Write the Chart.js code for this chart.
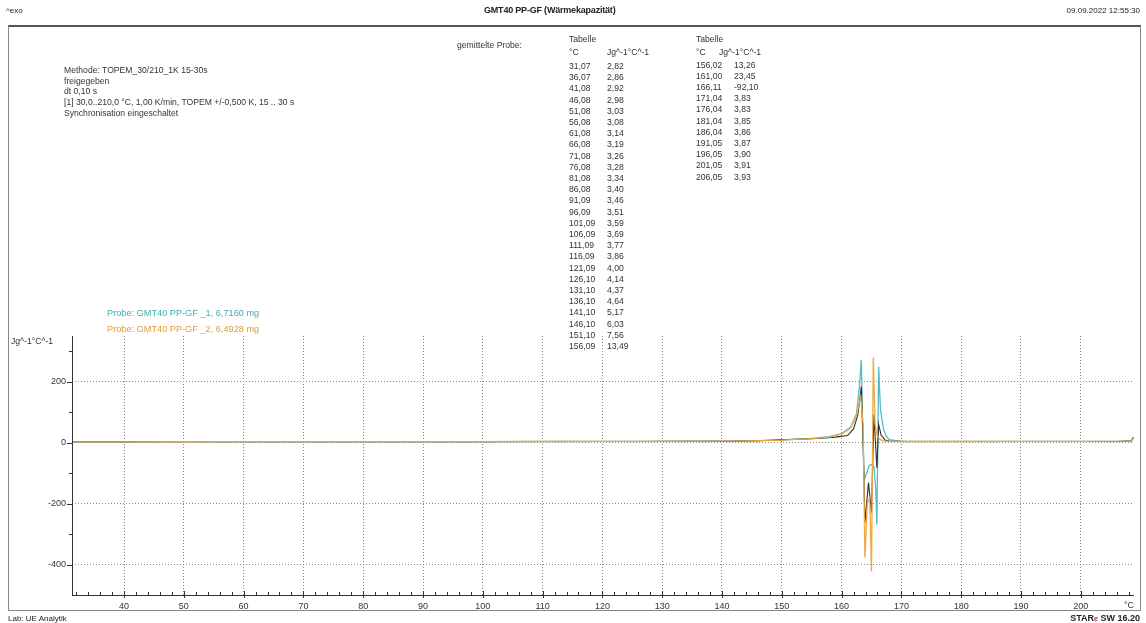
<!DOCTYPE html>
<html>
<head>
<meta charset="utf-8">
<script src="https://cdn.jsdelivr.net/npm/chart.js@4"></script>
<style>
  html, body { margin: 0; padding: 0; background: #fff; }
  #wrap { position: relative; width: 1146px; height: 623px; overflow: hidden; }
  #cv { position: absolute; left: 0; top: 0; }
  .t { position: absolute; white-space: pre; color: #333; font-family: "Liberation Sans", Arial, sans-serif; font-size: 8.6px; line-height: 11.2px; }
  .hdr { font-family: "Liberation Sans Narrow", "Liberation Sans", sans-serif; font-size: 8px; color: #222; }
  #frame { position: absolute; left: 8px; top: 25px; width: 1133px; height: 586px; border: 1px solid #888; border-top: 2px solid #555; box-sizing: border-box; }
</style>
</head>
<body>
<div id="wrap">
  <div id="frame"></div>
  <canvas id="cv" width="1146" height="623"></canvas>

  <div class="t hdr" style="left:6px;top:5px;">^exo</div>
  <div class="t hdr" style="left:484px;top:5px;font-size:9px;font-weight:bold;letter-spacing:-0.2px;">GMT40 PP-GF (Wärmekapazität)</div>
  <div class="t hdr" style="right:6px;top:5px;">09.09.2022 12:55:30</div>

  <div class="t" style="left:64px;top:65px;line-height:10.7px;">Methode: TOPEM_30/210_1K 15-30s
freigegeben
dt 0,10 s
[1] 30,0..210,0 °C, 1,00 K/min, TOPEM +/-0,500 K, 15 .. 30 s
Synchronisation eingeschaltet</div>

  <div class="t" style="left:457px;top:40px;">gemittelte Probe:</div>
  <div id="tab1"></div>
  <div id="tab2"></div>

  <div class="t" style="left:107px;top:308px;font-size:9.2px;color:#3aaeb4;">Probe: GMT40 PP-GF _1, 6,7160 mg</div>
  <div class="t" style="left:107px;top:324px;font-size:9.2px;color:#e39b35;">Probe: GMT40 PP-GF _2, 6,4928 mg</div>

  <div class="t" style="left:11px;top:336px;">Jg^-1°C^-1</div>
  <div class="t" style="left:1124px;top:600px;font-size:9px;">°C</div>

  <div class="t hdr" style="left:8px;top:613px;">Lab: UE Analytik</div>
  <div class="t hdr" style="right:6px;top:613px;font-weight:bold;font-size:9px;">STAR<span style="color:#c8102e;font-size:7px;vertical-align:top;">e</span> SW 16.20</div>
</div>

<script>
// Tabellen (gemittelte Probe)
const table1Temps = ['31,07','36,07','41,08','46,08','51,08','56,08','61,08','66,08','71,08','76,08','81,08','86,08','91,09',
  '96,09','101,09','106,09','111,09','116,09','121,09','126,10','131,10','136,10','141,10','146,10','151,10','156,09'];
const table1Values = ['2,82','2,86','2,92','2,98','3,03','3,08','3,14','3,19','3,26','3,28','3,34','3,40','3,46',
  '3,51','3,59','3,69','3,77','3,86','4,00','4,14','4,37','4,64','5,17','6,03','7,56','13,49'];
const table2Temps = ['156,02','161,00','166,11','171,04','176,04','181,04','186,04','191,05','196,05','201,05','206,05'];
const table2Values = ['13,26','23,45','-92,10','3,83','3,83','3,85','3,86','3,87','3,90','3,91','3,93'];

// Kurve gemittelte Probe (dunkel)
const meanTemps = [31.3, 36.07, 41.08, 46.08, 51.08, 56.08, 61.08, 66.08, 71.08, 76.08, 81.08, 86.08, 91.09, 96.09,
  101.09, 106.09, 111.09, 116.09, 121.09, 126.10, 131.10, 136.10, 141.10, 146.10, 151.10, 156.09, 159.0, 161.0,
  162.0, 162.7, 163.1, 163.3, 163.6, 163.9, 164.5, 165.0, 165.4, 165.9, 166.2, 166.6, 167.3, 168.0,
  171.04, 176.04, 181.04, 186.04, 191.05, 196.05, 201.05, 206.05, 208.5, 208.8];
const meanValues = [2.8, 2.82, 2.86, 2.92, 2.98, 3.03, 3.08, 3.14, 3.19, 3.26, 3.28, 3.34, 3.40, 3.46,
  3.51, 3.59, 3.69, 3.77, 3.86, 4.00, 4.14, 4.37, 4.64, 6.03, 10.5, 13.49, 18, 23.45,
  45, 90, 150, 184, 0, -262, -131, -230, 92, -82, 60, 25, 8, 5,
  3.83, 3.83, 3.85, 3.86, 3.87, 3.90, 3.91, 3.93, 6, 16];

// Probe 1 (cyan)
const probe1Temps = [31.3, 40, 50, 60, 70, 80, 90, 100, 110, 120, 130, 140, 145, 150, 155, 158, 160, 161.5, 162.5,
  163.0, 163.3, 163.5, 163.8, 164.2, 164.6, 165.0, 165.4, 165.7, 165.9, 166.2, 166.5, 167.0, 167.5, 168.0,
  170, 180, 190, 200, 208.4, 208.8];
const probe1Values = [2.9, 3.0, 3.1, 3.2, 3.3, 3.4, 3.5, 3.6, 3.8, 4.0, 4.4, 5.0, 6, 9, 14, 20, 30, 50, 95,
  190, 272, 60, -121, -100, -75, -72, -80, -150, -269, 249, 110, 45, 20, 10,
  4, 3.9, 3.9, 4.0, 5, 18];

// Probe 2 (orange)
const probe2Temps = [31.3, 40, 50, 60, 70, 80, 90, 100, 110, 120, 130, 140, 145, 150, 155, 158, 160, 161.5, 162.5,
  163.2, 163.6, 163.9, 164.3, 164.7, 165.0, 165.3, 165.6, 166.0, 166.5, 167.0, 168.0,
  170, 180, 190, 200, 208.4, 208.8];
const probe2Values = [2.7, 2.8, 3.0, 3.1, 3.2, 3.3, 3.4, 3.5, 3.7, 3.9, 4.2, 4.8, 5.8, 8, 13, 18, 28, 48, 90,
  150, 60, -377, -200, -180, -423, 279, 60, 20, 10, 6, 4,
  3.8, 3.8, 3.9, 3.9, 5, 14];

// Achsen
const xMin = 31.3, xMax = 208.9;
const yMin = -500, yMax = 350;
const xTickValues = [];
for (let v = 32; v <= 208; v += 2) xTickValues.push(v);
const yTickValues = [-400, -300, -200, -100, 0, 100, 200, 300];

const colors = {
  probe1: '#52bcc8',
  probe2: '#eea743',
  mean: '#2e2e2e',
  grid: '#8a8a8a',
  axis: '#333333',
  text: '#333333'
};

// Tabellen füllen (Kopf + Zeilen)
function buildTable(id, left, unitLeft, valueLeft, firstRowTop, temps, vals) {
  const el = document.getElementById(id);
  let html = '<div class="t" style="left:' + left + 'px;top:34px;">Tabelle</div>' +
    '<div class="t" style="left:' + left + 'px;top:47px;">°C</div>' +
    '<div class="t" style="left:' + unitLeft + 'px;top:47px;">Jg^-1°C^-1</div>';
  temps.forEach((t, i) => {
    const top = firstRowTop + i * 11.2;
    html += '<div class="t" style="left:' + left + 'px;top:' + top + 'px;">' + t + '</div>' +
      '<div class="t" style="left:' + valueLeft + 'px;top:' + top + 'px;">' + vals[i] + '</div>';
  });
  el.innerHTML = html;
}
buildTable('tab1', 569, 607, 607, 61, table1Temps, table1Values);
buildTable('tab2', 696, 719, 734, 59.5, table2Temps, table2Values);

function toPoints(xs, ys) {
  return xs.map((x, i) => ({ x: x, y: ys[i] }));
}

// Achsenlinien und Teilstriche
const axisPlugin = {
  id: 'axisPlugin',
  afterDatasetsDraw(chart) {
    const ctx = chart.ctx;
    const a = chart.chartArea;
    const xs = chart.scales.x, ys = chart.scales.y;
    ctx.save();
    ctx.strokeStyle = colors.axis;
    ctx.lineWidth = 1;
    ctx.beginPath();
    ctx.moveTo(a.left + 0.5, a.top);
    ctx.lineTo(a.left + 0.5, a.bottom);
    ctx.moveTo(a.left, a.bottom + 0.5);
    ctx.lineTo(a.right, a.bottom + 0.5);
    xTickValues.forEach(v => {
      const px = Math.round(xs.getPixelForValue(v)) + 0.5;
      if (v % 10 === 0) {
        ctx.moveTo(px, a.bottom - 4);
        ctx.lineTo(px, a.bottom + 3);
      } else {
        ctx.moveTo(px, a.bottom - 3);
        ctx.lineTo(px, a.bottom);
      }
    });
    yTickValues.forEach(v => {
      const py = Math.round(ys.getPixelForValue(v)) + 0.5;
      ctx.moveTo(a.left - (v % 200 === 0 ? 5 : 3), py);
      ctx.lineTo(a.left, py);
    });
    ctx.stroke();
    ctx.restore();
  }
};

const tickFont = { family: '"Liberation Sans", Arial, sans-serif', size: 9 };

new Chart(document.getElementById('cv'), {
  type: 'scatter',
  data: {
    datasets: [
      {
        label: 'Probe 2',
        data: toPoints(probe2Temps, probe2Values),
        showLine: true,
        borderColor: colors.probe2,
        borderWidth: 1.3,
        pointRadius: 0,
        tension: 0
      },
      {
        label: 'gemittelte Probe',
        data: toPoints(meanTemps, meanValues),
        showLine: true,
        borderColor: colors.mean,
        borderWidth: 1.1,
        pointRadius: 0,
        tension: 0
      },
      {
        label: 'Probe 1',
        data: toPoints(probe1Temps, probe1Values),
        showLine: true,
        borderColor: colors.probe1,
        borderWidth: 1.3,
        pointRadius: 0,
        tension: 0
      }
    ]
  },
  options: {
    responsive: false,
    animation: false,
    devicePixelRatio: 1,
    layout: { padding: { left: 8, right: 12, top: 336, bottom: 0 } },
    plugins: {
      legend: { display: false },
      tooltip: { enabled: false }
    },
    scales: {
      x: {
        type: 'linear',
        min: xMin,
        max: xMax,
        afterBuildTicks: scale => { scale.ticks = xTickValues.map(v => ({ value: v })); },
        afterFit: scale => { scale.height = 28; },
        border: { display: false, dash: [1, 2] },
        grid: {
          drawTicks: false,
          color: c => (c.tick && c.tick.value % 10 === 0) ? colors.grid : 'rgba(0,0,0,0)',
          lineWidth: 1
        },
        ticks: {
          autoSkip: false,
          maxRotation: 0,
          padding: 6,
          color: colors.text,
          font: tickFont,
          callback: v => (v % 10 === 0 && v >= 40 && v <= 200) ? String(v) : ''
        }
      },
      y: {
        type: 'linear',
        min: yMin,
        max: yMax,
        afterBuildTicks: scale => { scale.ticks = yTickValues.map(v => ({ value: v })); },
        afterFit: scale => { scale.width = 64; },
        border: { display: false, dash: [1, 2] },
        grid: {
          drawTicks: false,
          color: c => (c.tick && c.tick.value % 200 === 0) ? colors.grid : 'rgba(0,0,0,0)',
          lineWidth: 1
        },
        ticks: {
          autoSkip: false,
          padding: 6,
          color: colors.text,
          font: tickFont,
          callback: v => (v % 200 === 0) ? String(v) : ''
        }
      }
    }
  },
  plugins: [axisPlugin]
});
</script>
</body>
</html>
